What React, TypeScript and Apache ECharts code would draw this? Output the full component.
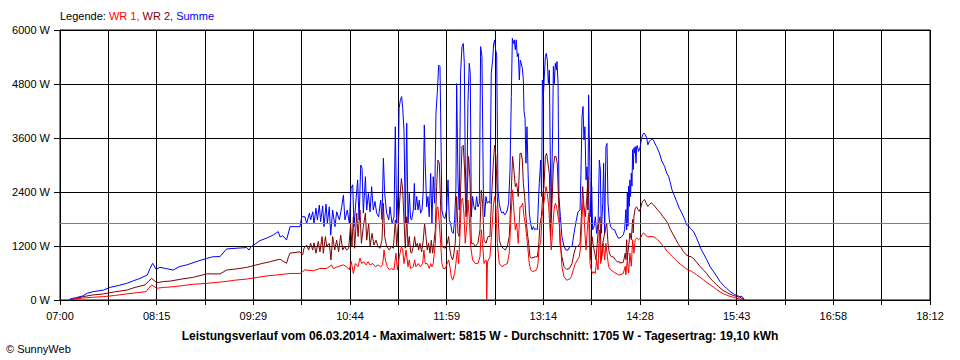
import React, { useEffect, useRef } from "react";
import * as echarts from "echarts";

// x values: minutes after 07:00, y values: W
const X_TICK_LABELS = ["07:00", "08:15", "09:29", "10:44", "11:59", "13:14", "14:28", "15:43", "16:58", "18:12"];
const X_SPAN_MIN = 672;
const Y_MAX = 6000;
const Y_STEP = 1200;
const AVERAGE_W = 1705;
const TITLE = "Leistungsverlauf vom 06.03.2014 - Maximalwert: 5815 W - Durchschnitt: 1705 W - Tagesertrag: 19,10 kWh";

const SUMME: [number, number][] = [
  [7, 0], [8.5, 30], [12, 50], [17.5, 90], [21, 150], [25.7, 185], [33.5, 220], [38.6, 280], [45, 320], [51.5, 370],
  [56, 420], [61.8, 480], [67.4, 555], [69.5, 700], [71.6, 815], [74.2, 680], [77.2, 725], [82, 700], [87.5, 665],
  [92, 740], [97.9, 780], [105, 850], [113.3, 925], [118, 960], [123.6, 965], [128.7, 1135], [136, 1150], [144.2, 1165],
  [146, 1110], [147.5, 1180], [154.5, 1320], [160, 1380], [164.8, 1445], [168.6, 1520], [170, 1400], [172, 1430],
  [175, 1335], [177.7, 1630], [185.4, 1630], [186.7, 1850], [189.2, 1850], [190.5, 1700], [192.6, 1930], [193.6, 1780],
  [195.2, 1960], [196.2, 1700], [197.7, 2040], [198.8, 1780], [200.3, 2110], [201.3, 1740], [202.9, 2090], [203.9, 1630],
  [205.5, 2130], [206.5, 1700], [208.0, 2070], [209.1, 1440], [210.6, 2000], [212.4, 1630], [213.7, 1960], [215.8, 1780],
  [217.6, 2070], [218.9, 2330], [220.1, 1780], [221.9, 2000], [223.5, 1700], [224.8, 2480], [226.1, 2560], [227.1, 1630],
  [228.6, 2220], [229.9, 2670], [231.0, 1780], [232.3, 3000], [233.3, 2930], [234.3, 1930], [235.9, 2740], [236.9, 2000],
  [238.2, 2370], [239.5, 1960], [240.7, 2520], [242.0, 2000], [243.3, 2190], [244.6, 1930], [246.1, 1850], [247.7, 2220],
  [248.7, 1790], [249.8, 3150], [250.8, 2370], [252.3, 1930], [253.9, 1780], [254.9, 2070], [256.5, 1690], [258.0, 1850],
  [259.0, 3850], [260.1, 1700], [261.1, 2440], [261.9, 4260], [262.9, 4440], [263.9, 4520], [264.7, 4260], [265.7, 3780],
  [266.7, 1700], [267.8, 3930], [268.8, 1700], [269.8, 2370],
  [270.8, 1810], [271.6, 1780], [272.9, 2000], [273.7, 2590], [274.4, 2000], [275.5, 2300], [276.5, 2000], [277.5, 2220],
  [278.5, 1930], [279.6, 2000], [280.6, 2440], [281.4, 3890], [282.1, 3040], [283.2, 2070], [284.2, 2300], [285.2, 1850],
  [286.3, 2810], [287.3, 1700], [288.3, 2740], [289.4, 2150], [290.4, 4150], [291.4, 4590], [292.5, 5220], [293.5, 5190],
  [294.0, 4150], [295.0, 2000], [296.1, 1850], [297.3, 1810], [298.6, 2000], [299.7, 2670], [300.7, 1780], [301.7, 1700],
  [302.7, 1520], [303.8, 1480], [304.8, 1780], [305.8, 2440], [306.4, 4810], [307.4, 2670], [308.4, 2000], [309.4, 5040],
  [310.5, 5630], [311.5, 5700], [312.3, 5260], [313.0, 3040], [314.1, 1930], [315.1, 4370], [316.1, 5260], [316.9, 5040],
  [317.7, 1850], [318.7, 2300], [319.7, 2070], [320.8, 2000], [321.8, 2300], [322.8, 2070], [323.9, 2150], [324.9, 5630],
  [325.9, 5410], [327.0, 2440], [328.0, 1850], [329.0, 2300], [330.0, 2150], [331.1, 2190], [332.1, 2150], [333.1, 5040],
  [334.2, 5330], [334.9, 5670], [335.7, 5780], [336.5, 5560], [337.3, 5440], [338.3, 2440], [339.3, 2150], [340.3, 2000],
  [341.4, 1930], [342.4, 1960], [343.4, 1890], [344.5, 1930], [345.5, 2000], [346.5, 2150], [347.6, 2890], [348.6, 4520],
  [349.4, 5815], [350.1, 5700], [350.9, 5780], [351.7, 5560], [352.4, 5780], [353.2, 5410], [354.0, 5480], [354.8, 4890],
  [355.5, 5330],
  [356.3, 5260], [357.1, 5150], [357.9, 4890], [358.4, 4190], [359.2, 4040], [359.9, 3040], [360.7, 3850], [361.5, 2890],
  [362.5, 1930], [363.5, 1700], [364.6, 1560], [365.6, 1630], [366.6, 1560], [367.7, 1590], [368.7, 1560], [369.7, 2300],
  [370.2, 2590], [371.3, 3110], [372.0, 2300], [372.6, 4890], [373.3, 4520], [374.1, 4960], [374.9, 5410], [375.6, 5480],
  [376.4, 5330], [377.2, 4810], [378.0, 5110], [378.7, 3190], [379.5, 1850], [380.0, 2890], [380.5, 3780], [381.1, 5190],
  [381.8, 4810], [382.6, 5260], [383.4, 5110], [383.9, 5300], [384.7, 4810], [385.4, 2300], [386.5, 1850], [387.7, 1410],
  [389.3, 1190], [390.8, 1110], [392.4, 1110], [393.9, 1190], [395.5, 1190], [397.0, 1480], [398.6, 1740], [400.1, 1960],
  [401.7, 2000], [402.4, 2810], [403.2, 4070], [404.0, 4300], [404.7, 3560], [405.5, 3850], [406.3, 2670], [407.1, 2960],
  [407.8, 2000], [408.3, 4560], [409.1, 3260], [409.9, 1850], [410.7, 2520], [411.4, 1560], [412.5, 1630], [413.5, 1850],
  [414.5, 1480], [415.6, 1700], [416.6, 3110], [417.4, 2890], [418.1, 1480], [419.2, 2150], [419.9, 3040], [420.7, 1480],
  [421.7, 3410], [422.5, 3480], [423.3, 2150], [424.3, 1780], [425.3, 1630], [426.9, 1570], [428.4, 1560], [430.0, 1440],
  [431.5, 1370],
  [432.5, 1380], [434.0, 1410], [435.1, 1450], [436.1, 1560], [437.1, 2010], [437.7, 1560], [438.2, 2380], [438.7, 1640],
  [439.2, 2530], [439.7, 2080], [440.2, 2670], [440.7, 2300], [441.3, 2820], [441.8, 2530], [442.3, 3340], [442.8, 2900],
  [443.3, 3380], [443.8, 3270], [444.3, 3410], [444.9, 3040], [445.4, 3410], [445.9, 3430], [446.9, 3300], [448.0, 3380],
  [449.0, 3560], [450.0, 3670], [451.0, 3710], [452.1, 3670], [453.1, 3600], [454.1, 3450], [455.2, 3530], [456.2, 3550],
  [457.2, 3580], [458.3, 3560], [459.3, 3490], [460.8, 3410], [462.9, 3270], [464.9, 3080], [467.0, 2970], [468.6, 2820],
  [470.1, 2750], [471.1, 2640], [472.7, 2450], [474.2, 2340], [476.3, 2190], [478.3, 2040], [480.4, 1930], [482.5, 1790],
  [484.0, 1670], [485.5, 1650], [487.1, 1580], [489.2, 1530], [491.2, 1410], [493.3, 1270], [495.3, 1120], [497.4, 1010],
  [499.5, 900], [502.0, 750], [504.6, 640], [507.2, 530], [509.8, 410], [512.3, 330], [514.9, 260], [517.5, 190],
  [520.1, 140], [522.6, 100], [524.7, 80], [526.7, 80], [528.3, 20], [528.8, 0]
];

const WR2: [number, number][] = [
  [7, 0], [12, 30], [17.8, 75], [25, 110], [33.5, 135], [42, 180], [51.5, 220], [58, 280], [65.7, 335], [68.5, 420],
  [70.8, 480], [74.7, 385], [80, 410], [85, 420], [95, 470], [103, 505], [113.3, 580], [123.6, 580], [128.7, 665],
  [136, 690], [144.2, 725], [154.5, 800], [162, 850], [169.9, 905], [172, 870], [175, 815], [176.5, 960],
  [177.7, 1040], [185.4, 1070], [187.4, 1000], [188.5, 1150], [190.5, 1220], [192.1, 1110], [193.6, 1260], [195.2, 1110],
  [196.2, 1270], [197.7, 1040], [199.5, 1300], [200.8, 1070], [202.4, 1410], [203.4, 1040], [205.0, 1410], [206.0, 1190],
  [208.0, 1260], [209.3, 890], [210.6, 1410], [212.2, 1110], [213.7, 1330], [215.2, 1070], [216.8, 1440], [218.3, 1110],
  [219.9, 1190], [221.4, 1110], [223.0, 1150], [224.5, 1700], [225.5, 1190], [226.6, 1850], [227.6, 1150], [229.2, 1930],
  [230.2, 1410], [231.7, 2000], [232.8, 1260], [234.3, 1630], [235.9, 1930], [236.9, 1330], [238.4, 1700], [239.5, 1190],
  [241.0, 1480], [242.5, 1220], [244.1, 1330], [245.6, 1190], [247.2, 1150], [248.7, 1330], [249.8, 2150], [250.8, 1410],
  [252.3, 1190], [254.4, 1110], [255.9, 1190], [257.5, 1150], [259.0, 1780], [260.1, 1190], [261.3, 1700], [262.6, 2300],
  [263.7, 2700], [264.7, 2440], [265.7, 1780], [266.7, 1150], [267.8, 1850], [268.8, 1190], [269.8, 1410],
  [270.8, 1070], [271.6, 1040], [272.9, 1190], [273.9, 1410], [274.9, 1190], [276.0, 1260], [277.0, 1110], [278.0, 1260],
  [279.3, 1070], [280.6, 1330], [281.6, 1700], [282.7, 1410], [283.7, 1110], [284.7, 1260], [285.8, 1040], [286.8, 1330],
  [287.8, 1040], [288.8, 1260], [289.9, 1560], [290.9, 2520], [291.9, 3110], [293.0, 3040], [294.0, 2070], [295.0, 1190],
  [297.6, 1150], [299.1, 1260], [300.2, 1410], [301.2, 1110], [302.2, 960], [303.3, 890], [304.3, 1040], [305.3, 1260],
  [306.4, 2300], [307.4, 1480], [308.4, 1410], [309.4, 2440], [310.5, 3410], [311.5, 3440], [312.5, 2890], [313.6, 1850],
  [314.6, 2440], [315.6, 3190], [316.7, 2670], [317.7, 1260], [319.2, 1260], [320.8, 1190], [322.8, 1260], [324.4, 1560],
  [325.4, 2440], [326.4, 2150], [327.5, 1330], [329.0, 1260], [330.6, 1410], [332.1, 1410], [333.6, 2440], [334.7, 3040],
  [335.7, 3440], [336.7, 3190], [337.8, 2300], [339.3, 1330], [340.9, 1190], [342.4, 1150], [343.9, 1110], [345.5, 1190],
  [347.0, 1410], [348.6, 2440], [349.6, 3190], [350.6, 2890], [351.7, 2520], [352.7, 2590], [354.0, 2300], [355.3, 3260],
  [356.3, 3260], [357.1, 3110], [357.9, 2590], [358.9, 2300], [359.9, 1850], [361.0, 1480], [362.0, 1260], [363.0, 960],
  [364.1, 930], [367.1, 960], [368.7, 960], [369.7, 1190], [370.8, 1700], [371.8, 1850], [372.8, 2300], [373.8, 2520],
  [374.9, 3190], [375.9, 3260], [376.9, 3040], [378.0, 2810], [379.0, 1410], [380.0, 2150], [381.1, 2960], [382.1, 3190],
  [383.1, 3190], [384.1, 3040], [385.2, 2150], [386.2, 1260], [387.7, 960], [389.3, 740], [391.4, 680], [393.4, 700],
  [395.5, 810], [397.0, 1040], [398.6, 1190], [400.1, 1190], [401.7, 1260], [402.7, 1850], [403.7, 2520], [404.7, 2070],
  [405.8, 1850], [406.8, 2220], [407.8, 2740], [408.9, 1850], [409.9, 890], [410.9, 1410], [412.0, 1190], [413.0, 1040],
  [414.0, 890], [415.0, 1260], [416.1, 1700], [417.1, 1850], [418.1, 890], [419.2, 1260], [420.2, 1410], [421.2, 1560],
  [422.3, 1700], [423.3, 1260], [424.3, 1040], [425.9, 960], [427.4, 960], [429.0, 890], [430.5, 850], [432.0, 850],
  [432.5, 820], [435.1, 840], [436.6, 1040], [437.1, 900], [437.7, 1340], [438.2, 900], [439.2, 1190], [440.2, 1490],
  [441.3, 1340], [442.3, 1790], [442.8, 1490], [443.3, 1860], [444.3, 2040], [445.4, 2070], [446.4, 2010], [447.4, 1970],
  [448.5, 2040], [449.5, 2160], [450.5, 2210], [451.6, 2230], [452.6, 2160], [454.1, 2080], [455.2, 2120], [456.7, 2160],
  [458.3, 2120], [459.8, 2070], [461.3, 2010], [463.4, 1950], [465.5, 1860], [467.5, 1790], [469.6, 1700], [471.6, 1560],
  [473.7, 1450], [475.8, 1340], [477.8, 1230], [479.9, 1160], [481.4, 1080], [483.5, 1010], [485.5, 970], [487.6, 960],
  [489.7, 910], [491.7, 840], [494.3, 750], [496.9, 670], [499.5, 590], [502.0, 490], [504.6, 410], [507.2, 340],
  [509.8, 270], [512.3, 210], [514.9, 170], [517.5, 130], [520.1, 100], [522.6, 80], [525.2, 60], [527.8, 20], [528.8, 0]
];

const WR1: [number, number][] = [
  [7, 0], [12, 20], [17.8, 45], [25, 60], [33.5, 75], [42, 100], [51.5, 135], [60, 165], [66.4, 185], [68.5, 260],
  [70.8, 335], [74.7, 260], [80, 280], [87.5, 295], [95, 320], [103, 350], [113.3, 370], [126.2, 405], [135, 440],
  [144.2, 465], [152, 500], [159.6, 535], [167, 555], [175, 580],
  [177.7, 590], [185.4, 590], [189.2, 670], [195.7, 650], [200.8, 700], [206.0, 700], [209.8, 780], [211.1, 700],
  [216.3, 760], [218.9, 780], [221.4, 740], [223.5, 670], [225.0, 850], [226.6, 590], [228.1, 810], [230.2, 740],
  [231.7, 930], [233.0, 810], [234.8, 850], [236.4, 780], [237.9, 850], [239.5, 780], [241.5, 810], [243.6, 740],
  [245.6, 780], [247.7, 740], [249.2, 780], [250.3, 1110], [251.3, 890], [252.8, 740], [254.4, 670], [255.9, 700],
  [258.0, 670], [259.5, 1040], [260.6, 670], [262.1, 960], [263.7, 1190], [264.7, 1110], [265.7, 810], [267.3, 1110],
  [268.8, 740], [269.8, 890],
  [270.8, 700], [272.9, 740], [273.9, 890], [274.9, 740], [276.7, 810], [278.5, 740], [280.1, 810], [281.1, 1110],
  [282.1, 810], [283.7, 810], [285.2, 700], [286.3, 810], [287.3, 740], [288.3, 810], [289.9, 1260], [290.9, 2000],
  [291.9, 2070], [293.0, 1700], [294.0, 1260], [295.0, 810], [296.1, 700], [297.6, 700], [299.1, 810], [300.2, 890],
  [301.2, 740], [302.2, 520], [303.3, 440], [304.8, 590], [305.8, 810], [306.9, 1110], [307.9, 810], [308.9, 1410],
  [310.0, 2220], [311.0, 2260], [312.0, 1930], [313.0, 1260], [314.1, 1630], [315.1, 2220], [316.1, 1850], [317.2, 1190],
  [318.7, 890], [320.8, 810], [322.8, 810], [324.4, 960], [325.4, 1560], [326.4, 1260], [327.5, 810], [329.0, 890],
  [329.4, 850], [329.6, 0], [330.0, 0], [330.2, 850], [332.1, 960], [333.6, 1560], [334.7, 2070], [335.7, 2300],
  [336.7, 2070], [337.8, 1260], [339.3, 810], [341.4, 740], [343.4, 780], [345.5, 810], [347.0, 1040], [348.6, 2000],
  [349.6, 2440], [350.6, 2000], [351.7, 1560], [352.7, 1700], [354.0, 1260], [355.3, 2070],
  [356.3, 2070], [357.4, 2150], [358.4, 1850], [359.4, 1700], [360.5, 1410], [361.5, 1110], [362.5, 810], [363.5, 670],
  [365.1, 630], [368.2, 670], [369.2, 810], [370.2, 1190], [371.3, 1260], [372.3, 1850], [373.3, 2070], [374.4, 2300],
  [375.4, 2520], [376.4, 2370], [377.5, 2070], [378.5, 1560], [379.5, 1110], [380.5, 1560], [381.6, 2000], [382.6, 2150],
  [383.6, 2070], [384.7, 1850], [385.7, 1700], [386.7, 1260], [387.7, 740], [389.3, 520], [391.4, 440], [393.4, 460],
  [395.0, 520], [396.5, 670], [398.0, 810], [399.6, 890], [401.1, 960], [402.2, 1190], [403.2, 1850], [404.2, 2300],
  [405.3, 1560], [406.3, 1110], [407.3, 1560], [408.3, 1930], [409.4, 810], [410.4, 670], [411.4, 590], [412.5, 630],
  [413.5, 590], [414.5, 890], [415.6, 670], [416.6, 1560], [417.6, 810], [418.6, 960], [419.7, 1260], [420.7, 890],
  [421.7, 1260], [422.8, 960], [423.8, 740], [425.3, 670], [427.4, 630], [429.5, 590], [431.5, 560],
  [432.5, 560], [435.1, 590], [436.6, 750], [437.1, 560], [438.2, 900], [439.2, 600], [440.2, 1040], [441.3, 750],
  [442.3, 1340], [443.3, 1040], [444.3, 1340], [445.4, 1380], [446.9, 1340], [448.5, 1380], [449.5, 1450], [450.5, 1490],
  [451.6, 1470], [452.6, 1430], [454.1, 1400], [455.7, 1410], [457.2, 1410], [458.8, 1400], [460.8, 1360], [462.9, 1300],
  [464.9, 1230], [467.0, 1160], [469.1, 1080], [471.1, 1020], [473.2, 960], [475.2, 900], [477.3, 840], [479.4, 790],
  [481.4, 750], [483.5, 700], [485.5, 660], [487.6, 640], [489.7, 600], [491.7, 560], [494.3, 510], [496.9, 450],
  [499.5, 390], [502.0, 340], [504.6, 290], [507.2, 230], [509.8, 180], [512.3, 140], [514.9, 110], [517.5, 80],
  [520.1, 60], [522.6, 40], [525.2, 20], [527.8, 10]
];

const FONT = "'Liberation Sans', Arial, sans-serif";
const TICK_STEP_SEC = (X_SPAN_MIN * 60) / 18;

function toSeconds(data: [number, number][]) {
  return data.map(([m, w]) => [m * 60, w]);
}

export default function App() {
  const ref = useRef<HTMLDivElement>(null);
  useEffect(() => {
    if (!ref.current) return;
    const chart = echarts.init(ref.current, undefined, { renderer: "svg" });
    const lineBase = {
      type: "line" as const,
      showSymbol: false,
      symbol: "none",
      smooth: false,
      lineStyle: { width: 1 },
      emphasis: { disabled: true },
      silent: true,
    };
    chart.setOption({
      animation: false,
      backgroundColor: "#ffffff",
      textStyle: { fontFamily: FONT },
      grid: { left: 60, right: 30, top: 30, bottom: 60, show: true, borderColor: "#000", borderWidth: 1, backgroundColor: "transparent" },
      xAxis: {
        type: "value",
        min: 0,
        max: X_SPAN_MIN * 60,
        interval: TICK_STEP_SEC,
        axisLine: { show: true, lineStyle: { color: "#000", width: 1 } },
        axisTick: { show: true, length: 5, inside: false, lineStyle: { color: "#000" } },
        splitLine: { show: true, lineStyle: { color: "#000", width: 1 } },
        axisLabel: {
          color: "#000",
          fontSize: 11,
          fontFamily: FONT,
          margin: 10,
          showMinLabel: true,
          showMaxLabel: true,
          formatter: (v: number) => {
            const i = Math.round(v / TICK_STEP_SEC);
            return i % 2 === 0 ? X_TICK_LABELS[i / 2] ?? "" : "";
          },
        },
      },
      yAxis: {
        type: "value",
        min: 0,
        max: Y_MAX,
        interval: Y_STEP,
        axisLine: { show: true, lineStyle: { color: "#000", width: 1 } },
        axisTick: { show: true, length: 6, lineStyle: { color: "#000" } },
        splitLine: { show: true, lineStyle: { color: "#000", width: 1 } },
        axisLabel: { color: "#000", fontSize: 11, fontFamily: FONT, margin: 10, formatter: (v: number) => `${v} W` },
      },
      series: [
        { ...lineBase, name: "Summe", data: toSeconds(SUMME), lineStyle: { width: 1, color: "#0000ff" }, itemStyle: { color: "#0000ff" } },
        { ...lineBase, name: "WR 2", data: toSeconds(WR2), lineStyle: { width: 1, color: "#800000" }, itemStyle: { color: "#800000" } },
        {
          ...lineBase,
          name: "WR 1",
          data: toSeconds(WR1),
          lineStyle: { width: 1, color: "#ff0000" },
          itemStyle: { color: "#ff0000" },
          markLine: {
            silent: true,
            symbol: "none",
            label: { show: false },
            lineStyle: { color: "#808080", type: "solid", width: 1 },
            data: [{ yAxis: AVERAGE_W }],
          },
        },
      ],
      graphic: [
        {
          type: "text",
          left: 60,
          top: 10,
          style: {
            text: "{k|Legende: }{a|WR 1, }{b|WR 2, }{c|Summe}",
            rich: {
              k: { fill: "#000", fontSize: 11, fontFamily: FONT },
              a: { fill: "#ff0000", fontSize: 11, fontFamily: FONT },
              b: { fill: "#800000", fontSize: 11, fontFamily: FONT },
              c: { fill: "#0000ff", fontSize: 11, fontFamily: FONT },
            },
          },
        },
        {
          type: "text",
          x: 480,
          y: 336,
          style: { text: TITLE, fill: "#000", fontSize: 12, fontWeight: "bold", fontFamily: FONT, align: "center", verticalAlign: "middle" },
        },
        {
          type: "text",
          x: 6,
          y: 349,
          style: { text: "© SunnyWeb", fill: "#000", fontSize: 11, fontFamily: FONT, align: "left", verticalAlign: "middle" },
        },
      ],
    });
    return () => chart.dispose();
  }, []);
  return <div ref={ref} style={{ position: "fixed", left: 0, top: 0, width: 960, height: 360 }} />;
}
